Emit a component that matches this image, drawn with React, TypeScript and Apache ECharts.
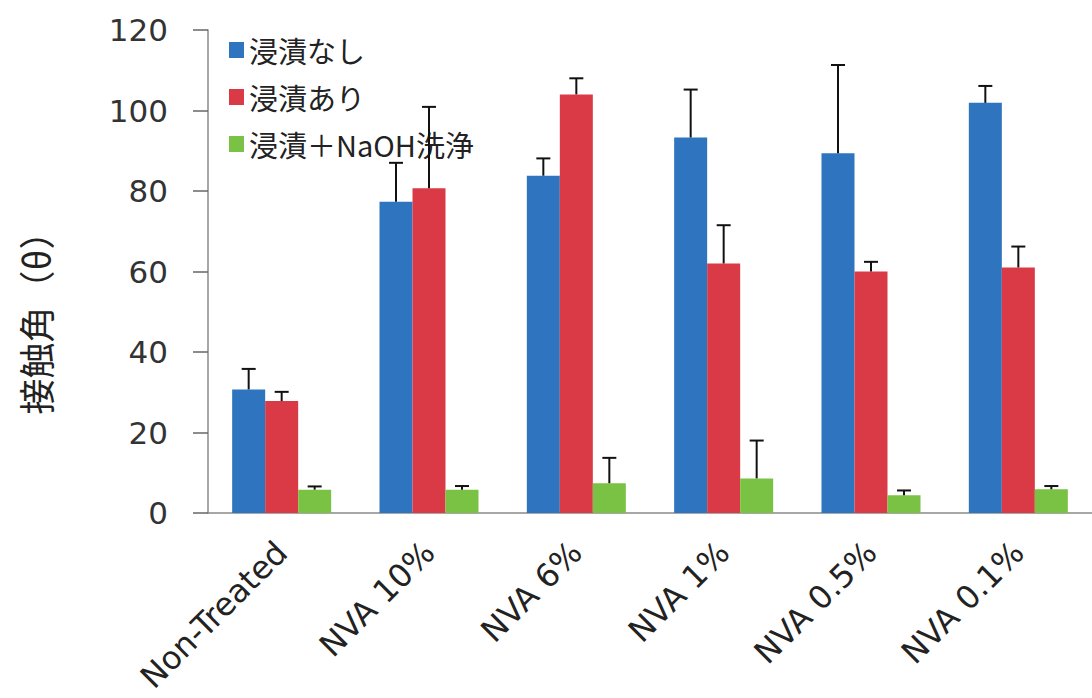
import React, { useEffect, useRef } from "react";
import * as echarts from "echarts";

// Contact angle by treatment: bar means with upper standard-deviation whiskers
const categories = ["Non-Treated", "NVA 10%", "NVA 6%", "NVA 1%", "NVA 0.5%", "NVA 0.1%"];
const seriesNames = ["浸漬なし", "浸漬あり", "浸漬＋NaOH洗浄"];

const noImmersion = [30.7, 77.3, 83.8, 93.3, 89.4, 101.9];
const noImmersionSd = [5.1, 9.7, 4.3, 11.9, 21.9, 4.2];

const immersion = [27.8, 80.7, 104.0, 62.0, 60.0, 61.0];
const immersionSd = [2.3, 20.2, 4.0, 9.5, 2.4, 5.2];

const immersionWash = [5.8, 5.8, 7.4, 8.6, 4.4, 5.9];
const immersionWashSd = [0.8, 0.9, 6.3, 9.4, 1.2, 0.8];

const yTicks = { min: 0, max: 120, step: 20 };

const colors = ["#2f74be", "#da3a46", "#79c244"];
const BAR_W = 33;

const latinFont = "'DejaVu Sans', 'Noto Sans CJK JP', sans-serif";
const cjkFont = "'Noto Sans CJK JP', 'DejaVu Sans', sans-serif";

function errorSeries(values: number[], sd: number[], slot: number) {
  return {
    type: "custom",
    name: seriesNames[slot] + " SD",
    z: 5,
    silent: true,
    data: values.map((v, i) => [i, v, v + sd[i]]),
    renderItem: (params: any, api: any) => {
      const base = api.coord([api.value(0), api.value(1)]);
      const top = api.coord([api.value(0), api.value(2)]);
      const x = base[0] + (slot - 1) * BAR_W;
      const style = { stroke: "#111", lineWidth: 2 };
      return {
        type: "group",
        children: [
          { type: "line", shape: { x1: x, y1: base[1], x2: x, y2: top[1] }, style },
          { type: "line", shape: { x1: x - 7, y1: top[1], x2: x + 7, y2: top[1] }, style },
        ],
      };
    },
  };
}

export default function App() {
  const ref = useRef<HTMLDivElement>(null);

  useEffect(() => {
    if (!ref.current) return;
    const chart = echarts.init(ref.current, undefined, { renderer: "svg" });
    const barData = [noImmersion, immersion, immersionWash];

    chart.setOption({
      animation: false,
      backgroundColor: "#ffffff",
      grid: { left: 208, right: -13, top: 30, bottom: 185 },
      legend: {
        orient: "vertical",
        left: 224,
        top: 30,
        itemGap: 17,
        itemWidth: 15,
        itemHeight: 16,
        icon: "rect",
        data: seriesNames,
        textStyle: {
          fontFamily: cjkFont,
          fontSize: 29,
          lineHeight: 30,
          color: "#222",
        },
      },
      xAxis: {
        type: "category",
        data: categories,
        boundaryGap: true,
        axisLine: { lineStyle: { color: "#8a8a8a", width: 1.5 } },
        axisTick: { length: 15, interval: 0, lineStyle: { color: "#666", width: 1.5 } },
        axisLabel: {
          interval: 0,
          rotate: 45,
          margin: 34,
          fontFamily: latinFont,
          fontSize: 32,
          color: "#222",
        },
      },
      yAxis: {
        type: "value",
        min: yTicks.min,
        max: yTicks.max,
        interval: yTicks.step,
        splitLine: { show: false },
        axisLine: { show: true, lineStyle: { color: "#8a8a8a", width: 1.5 } },
        axisTick: { show: true, length: 15, lineStyle: { color: "#666", width: 1.5 } },
        axisLabel: {
          margin: 40,
          fontFamily: latinFont,
          fontSize: 31,
          color: "#333",
        },
      },
      graphic: [
        {
          type: "text",
          x: 35,
          y: 314,
          rotation: Math.PI / 2,
          style: {
            text: "接触角（θ）",
            fontFamily: cjkFont,
            fontSize: 36,
            fill: "#222",
            align: "center",
            verticalAlign: "middle",
          },
        },
      ],
      series: [
        ...seriesNames.map((name, k) => ({
          type: "bar",
          name,
          data: barData[k],
          barWidth: BAR_W,
          barGap: "0%",
          itemStyle: { color: colors[k] },
        })),
        errorSeries(noImmersion, noImmersionSd, 0),
        errorSeries(immersion, immersionSd, 1),
        errorSeries(immersionWash, immersionWashSd, 2),
      ],
    });

    return () => chart.dispose();
  }, []);

  return (
    <div
      ref={ref}
      style={{ position: "fixed", left: 0, top: 0, width: 1092, height: 698, background: "#fff" }}
    />
  );
}
